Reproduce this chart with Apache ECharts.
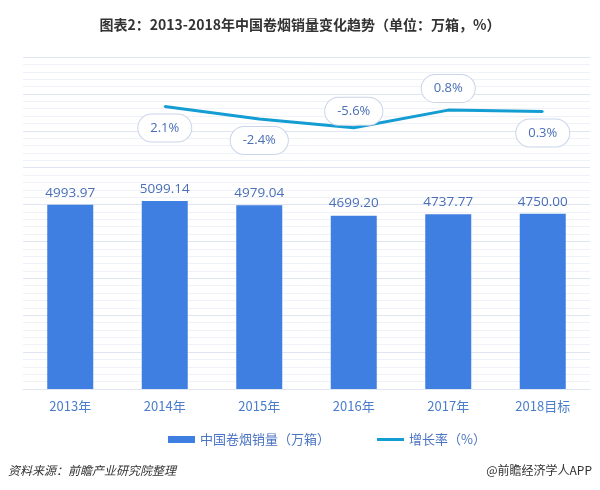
<!DOCTYPE html>
<html>
<head>
<meta charset="utf-8">
<script src="https://cdn.jsdelivr.net/npm/echarts@6/dist/echarts.min.js"></script>
<style>
html,body{margin:0;padding:0;background:#fff;}
#main{width:600px;height:490px;}
</style>
</head>
<body>
<div id="main"></div>
<script>
const categories = ['2013年', '2014年', '2015年', '2016年', '2017年', '2018目标'];
const salesValues = [4993.97, 5099.14, 4979.04, 4699.20, 4737.77, 4750.00];
const growthValues = [null, 2.1, -2.4, -5.6, 0.8, 0.3];
const growthLabelPos = [null, 'bottom', 'bottom', 'top', 'top', 'bottom'];
const growthLabelDist = [0, 7, 7, 2, 7, 7];

const chart = echarts.init(document.getElementById('main'));
const cjk = '"Noto Sans CJK SC", "Noto Sans", sans-serif';
const gridMajor = '#dfe6f1';
const gridMinor = '#eff2f8';

chart.setOption({
  backgroundColor: '#fff',
  animation: false,
  textStyle: { fontFamily: cjk },
  title: {
    text: '图表2：2013-2018年中国卷烟销量变化趋势（单位：万箱，%）',
    left: 'center',
    top: 13,
    textStyle: { fontSize: 14, fontWeight: 'bold', color: '#333', fontFamily: cjk }
  },
  graphic: [
    { type: 'text', left: 8, top: 464, style: { text: '资料来源：前瞻产业研究院整理', fill: '#333', font: 'italic 12px "Noto Sans CJK SC", sans-serif' } },
    { type: 'text', right: 8, top: 464, style: { text: '@前瞻经济学人APP', fill: '#333', font: '12px "Noto Sans CJK SC", sans-serif' } }
  ],
  legend: {
    left: 163,
    top: 428,
    itemWidth: 27,
    itemHeight: 7,
    itemGap: 47,
    textStyle: { fontSize: 13, color: '#4a74c4', fontFamily: cjk },
    data: [
      { name: '中国卷烟销量（万箱）', icon: 'rect' },
      { name: '增长率（%）', icon: 'path://M0,0 L27,0 L27,3 L0,3 Z' }
    ]
  },
  grid: { left: 23, right: 10, top: 57, bottom: 101 },
  xAxis: {
    type: 'category',
    data: categories,
    axisLine: { lineStyle: { color: gridMajor } },
    axisTick: { show: false },
    axisLabel: { color: '#4a7dcc', fontSize: 13, margin: 11, fontFamily: cjk }
  },
  yAxis: [
    {
      type: 'value', min: 0, max: 9000, interval: 1000,
      axisLine: { show: false }, axisTick: { show: false }, axisLabel: { show: false },
      splitLine: { lineStyle: { color: gridMajor, width: 1 } },
      minorTick: { show: false, splitNumber: 5 },
      minorSplitLine: { show: true, lineStyle: { color: gridMinor, width: 1 } }
    },
    {
      type: 'value', min: -100, max: 20,
      axisLine: { show: false }, axisTick: { show: false }, axisLabel: { show: false },
      splitLine: { show: false }
    }
  ],
  series: [
    {
      name: '中国卷烟销量（万箱）',
      type: 'bar',
      data: salesValues,
      barWidth: 46,
      itemStyle: { color: '#3e7fe1' },
      label: {
        show: true, position: 'top', distance: 5,
        color: '#4a6fb8', fontSize: 13.5, fontFamily: '"Open Sans", sans-serif',
        formatter: p => p.value.toFixed(2)
      }
    },
    {
      name: '增长率（%）',
      type: 'line',
      yAxisIndex: 1,
      data: growthValues.map((v, i) => ({
        value: v,
        label: { show: v !== null, position: growthLabelPos[i] || 'top', distance: growthLabelDist[i] }
      })),
      showSymbol: true,
      symbol: 'circle',
      symbolSize: 2,
      lineStyle: { color: '#149dd2', width: 3 },
      itemStyle: { color: '#149dd2' },
      label: {
        show: true,
        formatter: p => p.value.toFixed(1) + '%',
        color: '#4a6fb8', fontSize: 13, fontFamily: '"Open Sans", sans-serif',
        backgroundColor: '#fff',
        borderColor: '#c9d5ea', borderWidth: 1, borderRadius: 14,
        padding: [7, 12]
      }
    }
  ]
});
</script>
</body>
</html>
